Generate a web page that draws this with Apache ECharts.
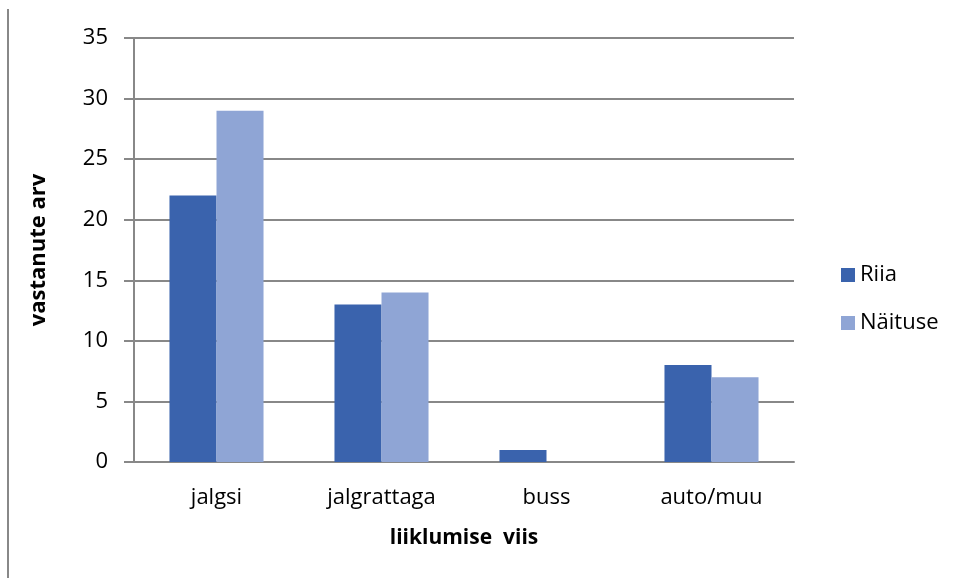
<!DOCTYPE html>
<html>
<head>
<meta charset="utf-8">
<script src="https://cdn.jsdelivr.net/npm/echarts@6/dist/echarts.min.js"></script>
<style>
  html, body { margin: 0; padding: 0; background: #fff; }
  #chart { width: 955px; height: 578px; }
</style>
</head>
<body>
<div id="chart"></div>
<script>
// Travel modes and respondent counts per group
const categories = ['jalgsi', 'jalgrattaga', 'buss', 'auto/muu'];
const riia = [22, 13, 1, 8];
const naituse = [29, 14, 0, 7];
const yTicks = [0, 5, 10, 15, 20, 25, 30, 35];

const FONT = '"Open Sans", Lato, sans-serif';
const chart = echarts.init(document.getElementById('chart'));

chart.setOption({
  animation: false,
  textStyle: { fontFamily: FONT },
  grid: { left: 134, right: 161, top: 38, bottom: 116, containLabel: false },
  legend: {
    orient: 'vertical',
    left: 836,
    top: 259,
    itemWidth: 14,
    itemHeight: 14,
    itemGap: 26,
    icon: 'rect',
    textStyle: { fontSize: 22, color: '#000', fontFamily: FONT },
    data: ['Riia', 'Näituse']
  },
  xAxis: {
    type: 'category',
    data: categories,
    name: 'liiklumise  viis',
    nameLocation: 'middle',
    nameGap: 66,
    nameTextStyle: { fontSize: 21, fontWeight: 'bold', color: '#000', fontFamily: FONT },
    axisLine: { lineStyle: { color: '#888', width: 2 } },
    axisTick: { show: false },
    axisLabel: { fontSize: 22, color: '#000', margin: 25, fontFamily: FONT }
  },
  yAxis: {
    type: 'value',
    min: yTicks[0],
    max: yTicks[yTicks.length - 1],
    interval: 5,
    name: 'vastanute arv',
    nameLocation: 'middle',
    nameGap: 84,
    nameTextStyle: { fontSize: 22, fontWeight: 'bold', color: '#000', fontFamily: FONT },
    axisLine: { show: true, lineStyle: { color: '#888', width: 2 } },
    axisTick: { show: true, inside: false, length: 10, lineStyle: { color: '#888', width: 2 } },
    axisLabel: { fontSize: 22, color: '#000', margin: 26, fontFamily: FONT },
    splitLine: { lineStyle: { color: '#888', width: 2 } }
  },
  series: [
    {
      name: 'Riia',
      type: 'bar',
      data: riia,
      barGap: '0%',
      barCategoryGap: '43%',
      itemStyle: { color: '#3A63AD' }
    },
    {
      name: 'Näituse',
      type: 'bar',
      data: naituse,
      itemStyle: { color: '#8FA5D5' }
    }
  ],
  graphic: [
    {
      type: 'line',
      shape: { x1: 8, y1: 9, x2: 8, y2: 578 },
      style: { stroke: '#888', lineWidth: 2 }
    }
  ]
});
</script>
</body>
</html>
